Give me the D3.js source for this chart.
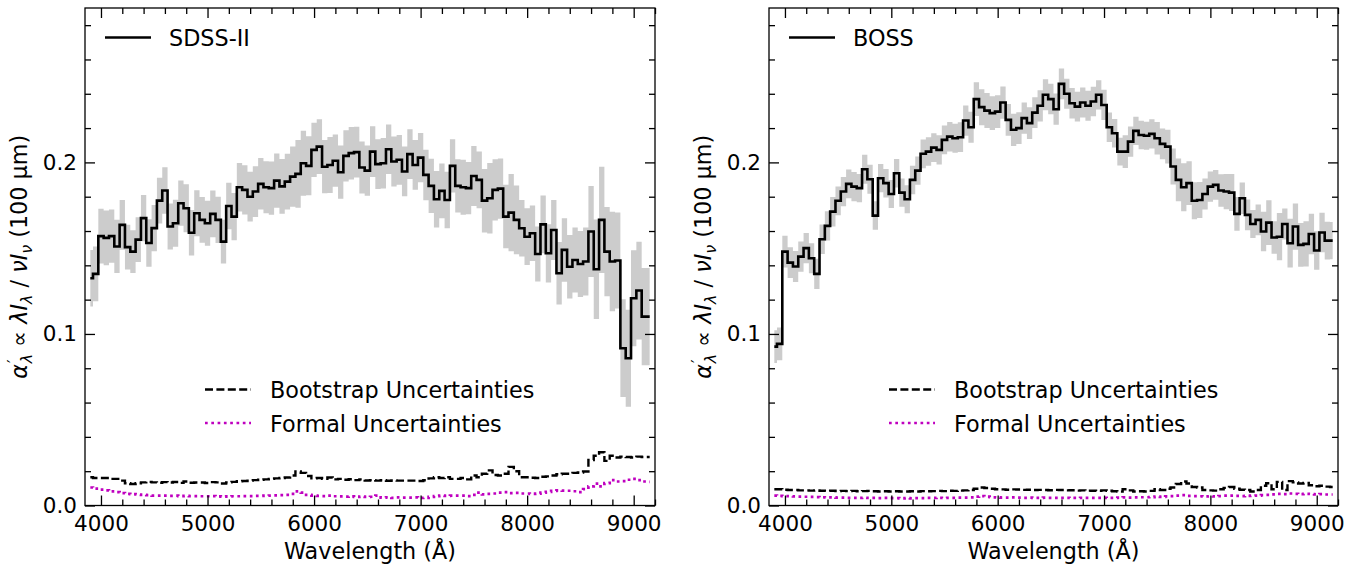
<!DOCTYPE html>
<html>
<head>
<meta charset="utf-8">
<script src="https://cdn.jsdelivr.net/npm/d3@7/dist/d3.min.js"></script>
<style>
  html, body { margin: 0; padding: 0; background: #fff; }
  svg { display: block; font-family: "DejaVu Sans", sans-serif; }
</style>
</head>
<body>
<svg id="chart" width="1361" height="569"></svg>
<script>
// ---------------- DATA ----------------
const wavelengths = [
  3900,3950,4000,4050,4100,4150,4200,4250,4300,4350,
  4400,4450,4500,4550,4600,4650,4700,4750,4800,4850,
  4900,4950,5000,5050,5100,5150,5200,5250,5300,5350,
  5400,5450,5500,5550,5600,5650,5700,5750,5800,5850,
  5900,5950,6000,6050,6100,6150,6200,6250,6300,6350,
  6400,6450,6500,6550,6600,6650,6700,6750,6800,6850,
  6900,6950,7000,7050,7100,7150,7200,7250,7300,7350,
  7400,7450,7500,7550,7600,7650,7700,7750,7800,7850,
  7900,7950,8000,8050,8100,8150,8200,8250,8300,8350,
  8400,8450,8500,8550,8600,8650,8700,8750,8800,8850,
  8900,8950,9000,9050,9100,9150
];

// SDSS-II panel
const sdssAlpha = [
  0.1325,0.135,0.157,0.156,0.157,0.151,0.1636,0.1506,0.148,0.155,
  0.1675,0.153,0.1617,0.1777,0.1836,0.1626,0.1645,0.1762,0.1733,0.159,
  0.1704,0.1665,0.1645,0.170,0.1665,0.1538,0.1746,0.1684,0.1855,0.184,
  0.180,0.183,0.1875,0.1855,0.185,0.1894,0.186,0.1888,0.1917,0.1933,
  0.1995,0.198,0.2073,0.2092,0.1975,0.1985,0.201,0.1943,0.2038,0.2054,
  0.206,0.197,0.1952,0.2063,0.199,0.1995,0.2077,0.2005,0.2015,0.1947,
  0.2048,0.1985,0.2028,0.1927,0.1863,0.1785,0.1834,0.1781,0.198,0.1863,
  0.1855,0.185,0.1921,0.1898,0.1777,0.1791,0.184,0.1847,0.1684,0.1707,
  0.1665,0.1616,0.1567,0.1587,0.1466,0.1639,0.147,0.1606,0.1354,0.149,
  0.1392,0.1431,0.1408,0.1422,0.1597,0.1377,0.1665,0.148,0.1422,0.1428,
  0.0917,0.0858,0.1208,0.1253,0.1101,0.1101
];
const sdssBootstrap = [
  0.0165,0.016,0.016,0.016,0.0155,0.0155,0.0145,0.013,0.0125,0.013,
  0.0135,0.0138,0.0135,0.0133,0.0136,0.0134,0.0137,0.0132,0.014,0.0133,
  0.0134,0.0134,0.0131,0.0136,0.0135,0.0128,0.0135,0.0138,0.0141,0.0143,
  0.0145,0.0148,0.015,0.0152,0.0155,0.0158,0.016,0.0163,0.0175,0.0198,
  0.019,0.0172,0.0158,0.016,0.0155,0.0163,0.0152,0.0155,0.015,0.0153,
  0.0148,0.0152,0.0146,0.0148,0.0145,0.0147,0.0144,0.0146,0.0145,0.0145,
  0.0145,0.0145,0.0143,0.0147,0.0158,0.0165,0.016,0.0165,0.0155,0.0155,
  0.016,0.0152,0.0175,0.0165,0.0185,0.0205,0.0178,0.0175,0.0185,0.0225,
  0.02,0.0165,0.0165,0.0162,0.016,0.0168,0.017,0.0175,0.0182,0.0185,
  0.0185,0.019,0.0192,0.0198,0.0265,0.029,0.031,0.026,0.029,0.028,
  0.0285,0.0283,0.028,0.0285,0.0283,0.0283
];
const sdssFormal = [
  0.0105,0.0098,0.0092,0.0088,0.0082,0.0078,0.0072,0.0068,0.0066,0.0064,
  0.0062,0.006,0.0058,0.0058,0.0057,0.0056,0.0057,0.0055,0.0056,0.0055,
  0.0055,0.0054,0.0054,0.0055,0.0053,0.0052,0.0053,0.0054,0.0054,0.0055,
  0.0055,0.0056,0.0056,0.0057,0.0058,0.0059,0.006,0.0062,0.0068,0.0082,
  0.0075,0.0062,0.0058,0.0056,0.0055,0.0058,0.0054,0.0053,0.0052,0.0053,
  0.005,0.0052,0.005,0.0051,0.0058,0.0046,0.0048,0.0045,0.0047,0.0046,
  0.0046,0.0047,0.0044,0.0045,0.005,0.0055,0.0058,0.0056,0.0057,0.0058,
  0.0058,0.0055,0.0062,0.0075,0.0065,0.0068,0.007,0.0075,0.0078,0.0072,
  0.0074,0.007,0.007,0.0068,0.0069,0.0075,0.008,0.0085,0.0088,0.0087,
  0.0086,0.0083,0.0078,0.0095,0.0112,0.0128,0.0112,0.013,0.0148,0.014,
  0.0142,0.015,0.0155,0.0148,0.014,0.0138
];

// BOSS panel
const bossAlpha = [
  0.0926,0.0942,0.148,0.1416,0.1393,0.1451,0.15,0.1441,0.135,0.1552,
  0.163,0.1713,0.1776,0.183,0.1875,0.1859,0.185,0.196,0.1902,0.169,
  0.1908,0.1879,0.1816,0.1937,0.1824,0.1785,0.1898,0.1952,0.205,0.2063,
  0.2086,0.2073,0.2131,0.215,0.2141,0.2147,0.2244,0.2205,0.2369,0.2322,
  0.2302,0.2287,0.2296,0.2349,0.2248,0.219,0.22,0.2258,0.2229,0.229,
  0.233,0.2394,0.2369,0.231,0.2458,0.24,0.2345,0.2325,0.2349,0.233,
  0.2355,0.2394,0.2335,0.2205,0.217,0.2063,0.2063,0.2121,0.2184,0.216,
  0.2155,0.2166,0.2141,0.2108,0.2092,0.1976,0.1898,0.1855,0.1879,0.1776,
  0.1781,0.1816,0.1859,0.1869,0.1836,0.183,0.1824,0.17,0.1791,0.1694,
  0.1641,0.1665,0.1597,0.1649,0.1562,0.1567,0.1641,0.1529,0.1626,0.1519,
  0.1525,0.1583,0.1486,0.1591,0.1544,0.1544
];
const bossBootstrap = [
  0.0095,0.0095,0.0092,0.009,0.009,0.0088,0.0088,0.0087,0.0088,0.0086,
  0.0085,0.0086,0.0084,0.0085,0.0084,0.0085,0.0083,0.0084,0.0085,0.0083,
  0.0082,0.0083,0.0082,0.0083,0.0082,0.0082,0.0083,0.0082,0.0084,0.0083,
  0.0084,0.0085,0.0084,0.0086,0.0085,0.0087,0.0088,0.009,0.0098,0.0105,
  0.0102,0.0098,0.0095,0.0094,0.0092,0.0094,0.0093,0.0091,0.0092,0.009,
  0.0091,0.009,0.0089,0.0091,0.009,0.0088,0.0089,0.0087,0.0088,0.0087,
  0.0086,0.0085,0.0088,0.0086,0.0083,0.0081,0.0095,0.0088,0.0082,0.0083,
  0.0082,0.0085,0.0095,0.009,0.0098,0.0105,0.0125,0.014,0.0128,0.0108,
  0.0105,0.009,0.0088,0.0087,0.0095,0.0103,0.0108,0.0098,0.0092,0.009,
  0.0082,0.009,0.0115,0.013,0.0095,0.0138,0.009,0.0142,0.0135,0.0128,
  0.0132,0.0118,0.0112,0.0115,0.011,0.0108
];
const bossFormal = [
  0.0058,0.0056,0.0055,0.0054,0.0053,0.0052,0.0051,0.005,0.0049,0.0048,
  0.0047,0.0047,0.0046,0.0046,0.0045,0.0045,0.0044,0.0045,0.0044,0.0044,
  0.0043,0.0044,0.0043,0.0043,0.0042,0.0043,0.0042,0.0043,0.0043,0.0044,
  0.0044,0.0045,0.0044,0.0045,0.0045,0.0046,0.0046,0.0047,0.0052,0.0055,
  0.0052,0.0048,0.0047,0.0046,0.0046,0.0047,0.0046,0.0045,0.0046,0.0045,
  0.0045,0.0046,0.0045,0.0045,0.0044,0.0045,0.0044,0.0044,0.0045,0.0044,
  0.0044,0.0044,0.0045,0.0044,0.0044,0.0046,0.0047,0.0046,0.0047,0.0048,
  0.0048,0.0049,0.0052,0.005,0.0053,0.0055,0.0058,0.006,0.0056,0.0055,
  0.0054,0.0053,0.0054,0.0053,0.0055,0.0057,0.0058,0.0056,0.0055,0.0056,
  0.0057,0.0058,0.006,0.0062,0.0065,0.0068,0.0066,0.007,0.0068,0.0066,
  0.0068,0.0067,0.0065,0.0066,0.0064,0.0064
];

const xTickValues = [4000, 5000, 6000, 7000, 8000, 9000];
const yTickValues = [0.0, 0.1, 0.2];
const panelNames = ["SDSS-II", "BOSS"];
const legendLabels = ["Bootstrap Uncertainties", "Formal Uncertainties"];
const xDomain = [3850, 9200];
const yDomain = [0, 0.29];

// ---------------- DRAW ----------------
const svg = d3.select("#chart");
const panels = [
  { name: panelNames[0], alpha: sdssAlpha, boot: sdssBootstrap, formal: sdssFormal, left: 85, right: 655 },
  { name: panelNames[1], alpha: bossAlpha, boot: bossBootstrap, formal: bossFormal, left: 769, right: 1338 }
];
const plotTop = 8, plotBottom = 505.5;
const magenta = "#bf00bf";
const textSize = 22.3, tickSize = 21.5;

panels.forEach(p => {
  const x = d3.scaleLinear().domain(xDomain).range([p.left, p.right]);
  const y = d3.scaleLinear().domain(yDomain).range([plotBottom, plotTop]);
  const g = svg.append("g");

  const clipId = "clip" + p.left;
  svg.append("clipPath").attr("id", clipId).append("rect")
    .attr("x", p.left).attr("y", plotTop).attr("width", p.right - p.left).attr("height", plotBottom - plotTop);
  const plot = g.append("g").attr("clip-path", `url(#${clipId})`);

  const idx = d3.range(wavelengths.length);
  const band = d3.area().curve(d3.curveStep)
    .x(i => x(wavelengths[i]))
    .y0(i => y(p.alpha[i] - p.boot[i]))
    .y1(i => y(p.alpha[i] + p.boot[i]));
  plot.append("path").attr("d", band(idx)).attr("fill", "#cccccc").attr("stroke", "none");

  const mk = arr => d3.line().curve(d3.curveStep).x(i => x(wavelengths[i])).y(i => y(arr[i]));
  plot.append("path").attr("d", mk(p.alpha)(idx)).attr("fill", "none")
    .attr("stroke", "#000").attr("stroke-width", 2.6).attr("stroke-linejoin", "miter");
  plot.append("path").attr("d", mk(p.boot)(idx)).attr("fill", "none")
    .attr("stroke", "#000").attr("stroke-width", 2.4).attr("stroke-dasharray", "8,3.4");
  plot.append("path").attr("d", mk(p.formal)(idx)).attr("fill", "none")
    .attr("stroke", magenta).attr("stroke-width", 2.7).attr("stroke-dasharray", "2.7,3.6");

  // axes (inward ticks)
  const xMinor = d3.range(4000, 9201, 200).filter(v => v % 1000 !== 0);
  const yMinor = d3.range(0.02, 0.29, 0.02).filter(v => Math.abs(v * 10 - Math.round(v * 10)) > 1e-6);
  const styleAxis = sel => {
    sel.select(".domain").remove();
    sel.selectAll("line").attr("stroke", "#000").attr("stroke-width", 1.3);
    sel.selectAll("text").attr("fill", "#000").attr("font-size", tickSize)
      .attr("font-family", "'DejaVu Sans', sans-serif");
  };
  g.append("g").attr("transform", `translate(0,${plotBottom})`)
    .call(d3.axisBottom(x).tickValues(xTickValues).tickFormat(d3.format("d")).tickSizeInner(-10).tickSizeOuter(0).tickPadding(10))
    .call(styleAxis);
  g.append("g").attr("transform", `translate(0,${plotBottom})`)
    .call(d3.axisBottom(x).tickValues(xMinor).tickFormat("").tickSizeInner(-6).tickSizeOuter(0))
    .call(styleAxis);
  g.append("g").attr("transform", `translate(0,${plotTop})`)
    .call(d3.axisTop(x).tickValues(xTickValues).tickFormat("").tickSizeInner(-10).tickSizeOuter(0))
    .call(styleAxis);
  g.append("g").attr("transform", `translate(0,${plotTop})`)
    .call(d3.axisTop(x).tickValues(xMinor).tickFormat("").tickSizeInner(-6).tickSizeOuter(0))
    .call(styleAxis);
  g.append("g").attr("transform", `translate(${p.left},0)`)
    .call(d3.axisLeft(y).tickValues(yTickValues).tickFormat(d3.format(".1f")).tickSizeInner(-10).tickSizeOuter(0).tickPadding(8))
    .call(styleAxis);
  g.append("g").attr("transform", `translate(${p.left},0)`)
    .call(d3.axisLeft(y).tickValues(yMinor).tickFormat("").tickSizeInner(-6).tickSizeOuter(0))
    .call(styleAxis);
  g.append("g").attr("transform", `translate(${p.right},0)`)
    .call(d3.axisRight(y).tickValues(yTickValues).tickFormat("").tickSizeInner(-10).tickSizeOuter(0))
    .call(styleAxis);
  g.append("g").attr("transform", `translate(${p.right},0)`)
    .call(d3.axisRight(y).tickValues(yMinor).tickFormat("").tickSizeInner(-6).tickSizeOuter(0))
    .call(styleAxis);

  g.append("rect").attr("x", p.left).attr("y", plotTop)
    .attr("width", p.right - p.left).attr("height", plotBottom - plotTop)
    .attr("fill", "none").attr("stroke", "#000").attr("stroke-width", 1.3);

  // x label
  g.append("text").attr("x", (p.left + p.right) / 2).attr("y", 559)
    .attr("text-anchor", "middle").attr("font-size", textSize).attr("fill", "#000")
    .text("Wavelength (Å)");

  // y label
  const yl = g.append("text")
    .attr("transform", `translate(${p.left - 58},${(plotTop + plotBottom) / 2}) rotate(-90)`)
    .attr("text-anchor", "middle").attr("font-size", textSize).attr("fill", "#000");
  yl.append("tspan").attr("font-style", "italic").text("α");
  yl.append("tspan").attr("font-size", 16).attr("dx", 1).attr("dy", -8).text("′");
  yl.append("tspan").attr("font-size", 16).attr("font-style", "italic").attr("dx", -4).attr("dy", 13).text("λ");
  yl.append("tspan").attr("dy", -5).text("  ∝  ");
  yl.append("tspan").attr("font-style", "italic").text("λI");
  yl.append("tspan").attr("font-size", 16).attr("font-style", "italic").attr("dy", 5).text("λ");
  yl.append("tspan").attr("dy", -5).text(" / ");
  yl.append("tspan").attr("font-style", "italic").text("νI");
  yl.append("tspan").attr("font-size", 16).attr("font-style", "italic").attr("dy", 5).text("ν");
  yl.append("tspan").attr("dy", -5).text(" (100 μm)");

  // legend: panel name
  const lx = p.left + 20;
  g.append("line").attr("x1", lx).attr("x2", lx + 46).attr("y1", 37.5).attr("y2", 37.5)
    .attr("stroke", "#000").attr("stroke-width", 2.6);
  g.append("text").attr("x", lx + 64).attr("y", 46).attr("font-size", textSize).attr("fill", "#000").text(p.name);

  // legend: uncertainties
  const bx = p.left + 120;
  g.append("line").attr("x1", bx).attr("x2", bx + 46).attr("y1", 389.5).attr("y2", 389.5)
    .attr("stroke", "#000").attr("stroke-width", 2.4).attr("stroke-dasharray", "8,3.4");
  g.append("text").attr("x", bx + 65).attr("y", 398).attr("font-size", textSize).attr("fill", "#000").text(legendLabels[0]);
  g.append("line").attr("x1", bx).attr("x2", bx + 46).attr("y1", 423).attr("y2", 423)
    .attr("stroke", magenta).attr("stroke-width", 2.7).attr("stroke-dasharray", "2.7,3.6");
  g.append("text").attr("x", bx + 65).attr("y", 431.5).attr("font-size", textSize).attr("fill", "#000").text(legendLabels[1]);
});
</script>
</body>
</html>
